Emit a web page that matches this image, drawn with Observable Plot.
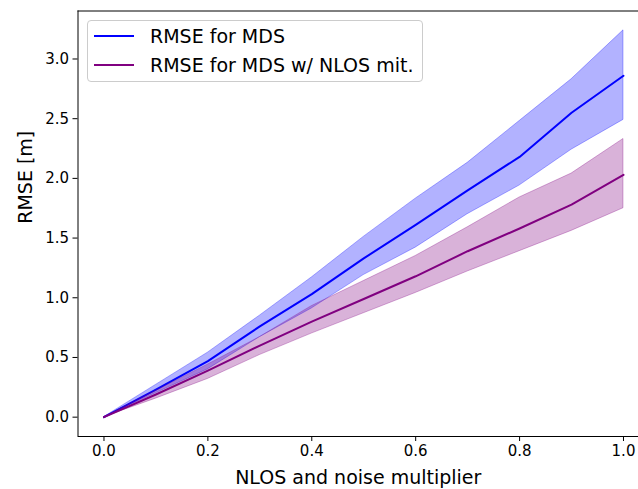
<!DOCTYPE html>
<html>
<head>
<meta charset="utf-8">
<script src="https://cdn.jsdelivr.net/npm/d3@7"></script>
<script src="https://cdn.jsdelivr.net/npm/@observablehq/plot@0.6"></script>
<style>
  html, body { margin: 0; padding: 0; background: #fff; }
  #wrap { position: relative; width: 638px; height: 489px; font-family: "DejaVu Sans", sans-serif; }
  #legend {
    position: absolute; left: 87px; top: 20px; width: 334px; height: 60px;
    border: 1px solid #cccccc; border-radius: 4px; background: rgba(255,255,255,0.8);
    box-sizing: content-box;
  }
  .row { position: absolute; left: 6px; height: 28px; display: flex; align-items: center; font-size: 19px; color: #000; white-space: nowrap; }
  .sw { width: 40px; height: 2px; margin-right: 16px; }
</style>
</head>
<body>
<div id="wrap"></div>
<script>
// Data
const xs       = [0, 0.1, 0.2, 0.3, 0.4, 0.5, 0.6, 0.7, 0.8, 0.9, 1.0];
const mds      = [0, 0.23, 0.47, 0.76, 1.03, 1.33, 1.61, 1.90, 2.18, 2.55, 2.86];
const mdsLow   = [0, 0.20, 0.40, 0.67, 0.91, 1.19, 1.42, 1.70, 1.94, 2.24, 2.49];
const mdsHigh  = [0, 0.27, 0.54, 0.85, 1.17, 1.51, 1.83, 2.13, 2.48, 2.83, 3.24];
const nlos     = [0, 0.19, 0.39, 0.60, 0.80, 0.99, 1.18, 1.39, 1.58, 1.78, 2.03];
const nlosLow  = [0, 0.155, 0.32, 0.52, 0.70, 0.87, 1.04, 1.22, 1.39, 1.56, 1.75];
const nlosHigh = [0, 0.22, 0.44, 0.67, 0.93, 1.14, 1.35, 1.59, 1.84, 2.04, 2.33];
const xTicks = [0, 0.2, 0.4, 0.6, 0.8, 1.0];
const yTicks = [0, 0.5, 1.0, 1.5, 2.0, 2.5, 3.0];
const seriesNames = ["RMSE for MDS", "RMSE for MDS w/ NLOS mit."];
const seriesColors = ["#0000ff", "#800080"];
const xLabel = "NLOS and noise multiplier";
const yLabel = "RMSE [m]";

const xDomain = [-0.05, 1.0289];
const yDomain = [-0.162, 3.402];

const rowsMds = xs.map((x, i) => ({x, y: mds[i], lo: mdsLow[i], hi: mdsHigh[i]}));
const rowsNlos = xs.map((x, i) => ({x, y: nlos[i], lo: nlosLow[i], hi: nlosHigh[i]}));

const plot = Plot.plot({
  width: 638,
  height: 489,
  marginLeft: 77.5,
  marginRight: 0,
  marginTop: 10.5,
  marginBottom: 53,
  style: {fontFamily: "DejaVu Sans, sans-serif", fontSize: "15px", color: "#000", background: "#fff"},
  x: {domain: xDomain, label: null},
  y: {domain: yDomain, label: null},
  marks: [
    Plot.areaY(rowsMds, {x: "x", y1: "lo", y2: "hi", fill: seriesColors[0], fillOpacity: 0.3, stroke: seriesColors[0], strokeOpacity: 0.3, strokeWidth: 1}),
    Plot.lineY(rowsMds, {x: "x", y: "y", stroke: seriesColors[0], strokeWidth: 2}),
    Plot.areaY(rowsNlos, {x: "x", y1: "lo", y2: "hi", fill: seriesColors[1], fillOpacity: 0.3, stroke: seriesColors[1], strokeOpacity: 0.3, strokeWidth: 1}),
    Plot.lineY(rowsNlos, {x: "x", y: "y", stroke: seriesColors[1], strokeWidth: 2}),
    Plot.ruleX([xDomain[0]], {stroke: "#000", strokeWidth: 1}),
    Plot.ruleY([yDomain[0], yDomain[1]], {stroke: "#000", strokeWidth: 1}),
    Plot.axisX({ticks: xTicks, tickFormat: d => d.toFixed(1), tickSize: 5, tickPadding: 4, fontSize: 15, label: null}),
    Plot.axisY({ticks: yTicks, tickFormat: d => d.toFixed(1), tickSize: 5, tickPadding: 4, fontSize: 15, label: null}),
    Plot.text([xLabel], {frameAnchor: "bottom", dy: 47, fontSize: 19, fill: "#000"}),
    Plot.text([yLabel], {frameAnchor: "left", dx: -52, rotate: -90, fontSize: 19, fill: "#000"})
  ]
});

const wrap = document.getElementById("wrap");
wrap.appendChild(plot);

const legend = document.createElement("div");
legend.id = "legend";
seriesNames.forEach((name, i) => {
  const row = document.createElement("div");
  row.className = "row";
  row.style.top = (1 + i * 28.5) + "px";
  const sw = document.createElement("div");
  sw.className = "sw";
  sw.style.background = seriesColors[i];
  const t = document.createElement("span");
  t.textContent = name;
  row.appendChild(sw);
  row.appendChild(t);
  legend.appendChild(row);
});
wrap.appendChild(legend);
</script>
</body>
</html>
